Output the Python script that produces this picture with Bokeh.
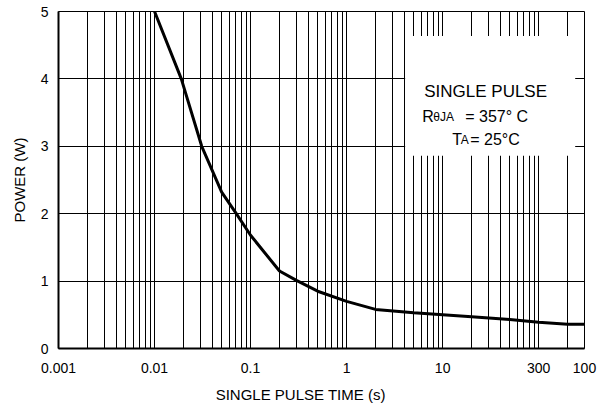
from bokeh.plotting import figure
from bokeh.models import FixedTicker, BoxAnnotation, Label, Range1d
from bokeh.embed import file_html
from bokeh.resources import INLINE

# ---- data ----
pulse_time = [0.01, 0.019, 0.031, 0.05, 0.071, 0.1, 0.2, 0.3, 0.5, 1, 2, 5, 10, 20, 50, 100, 200, 300]
power_w = [5.0, 4.0, 3.0, 2.32, 2.0, 1.68, 1.15, 1.01, 0.85, 0.70, 0.58, 0.53, 0.50, 0.47, 0.43, 0.39, 0.36, 0.36]

x_ticks = [0.001, 0.01, 0.1, 1, 10, 100, 300]
x_tick_labels = ["0.001", "0.01", "0.1", "1", "10", "300", "100"]
y_ticks = [0, 1, 2, 3, 4, 5]

FONT = "Liberation Sans"

p = figure(width=612, height=406, x_axis_type="log",
           x_range=Range1d(0.001, 300), y_range=Range1d(0, 5),
           output_backend="svg", toolbar_location=None,
           min_border_left=58, min_border_right=28, min_border_top=11, min_border_bottom=58)

minor = []
d = 0.001
while d < 300:
    for k in range(2, 10):
        v = round(k * d, 6)
        if v < 300:
            minor.append(v)
    d = round(d * 10, 6)

p.xaxis.ticker = FixedTicker(ticks=x_ticks, minor_ticks=minor)
p.xaxis.major_label_overrides = {float(t): l for t, l in zip(x_ticks, x_tick_labels)}
p.yaxis.ticker = FixedTicker(ticks=y_ticks)

for ax in (p.xaxis, p.yaxis):
    ax.major_tick_line_color = None
    ax.minor_tick_line_color = None
    ax.major_tick_out = 0
    ax.major_tick_in = 0
    ax.axis_line_color = "black"
    ax.axis_line_width = 2
    ax.major_label_text_font = FONT
    ax.major_label_text_font_size = "14px"
    ax.major_label_text_color = "black"
    ax.axis_label_text_font = FONT
    ax.axis_label_text_font_size = "15px"
    ax.axis_label_text_font_style = "normal"
    ax.axis_label_text_color = "black"

# trailing no-break spaces shift the centred title a little to the left, as in the original
p.xaxis.axis_label = "SINGLE PULSE TIME (s)" + "\u00a0" * 10
p.yaxis.axis_label = "POWER (W)"
p.xaxis.major_label_standoff = 10
p.xaxis.axis_label_standoff = 10
p.yaxis.major_label_standoff = 10
p.yaxis.axis_label_standoff = 10

p.xgrid.grid_line_color = "black"
p.xgrid.grid_line_width = 1
p.xgrid.minor_grid_line_color = "black"
p.xgrid.minor_grid_line_width = 1
p.ygrid.grid_line_color = "black"
p.ygrid.grid_line_width = 1

p.outline_line_color = "black"
p.outline_line_width = 1
p.background_fill_color = "white"
p.border_fill_color = "white"

p.line(pulse_time, power_w, line_color="black", line_width=3)

# white annotation box covering the grid
p.add_layout(BoxAnnotation(left=4.07, right=240, bottom=2.86, top=4.635,
                           fill_color="white", fill_alpha=1.0, line_color=None))

def lab(x, y, text, size):
    p.add_layout(Label(x=x, y=y, text=text, text_font=FONT, text_font_size=size,
                       text_color="black", text_baseline="alphabetic", text_align="left"))

lab(6.43, 3.82, "SINGLE PULSE", "17px")
lab(6.12, 3.44, "R", "16px")
lab(7.98, 3.43, "θJA", "12px")
lab(17.2, 3.44, "= 357° C", "16px")
lab(12.56, 3.10, "T", "16px")
lab(15.4, 3.09, "A", "12px")
lab(19.4, 3.10, "= 25°C", "16px")

open("out.html", "w").write(file_html(p, INLINE))
